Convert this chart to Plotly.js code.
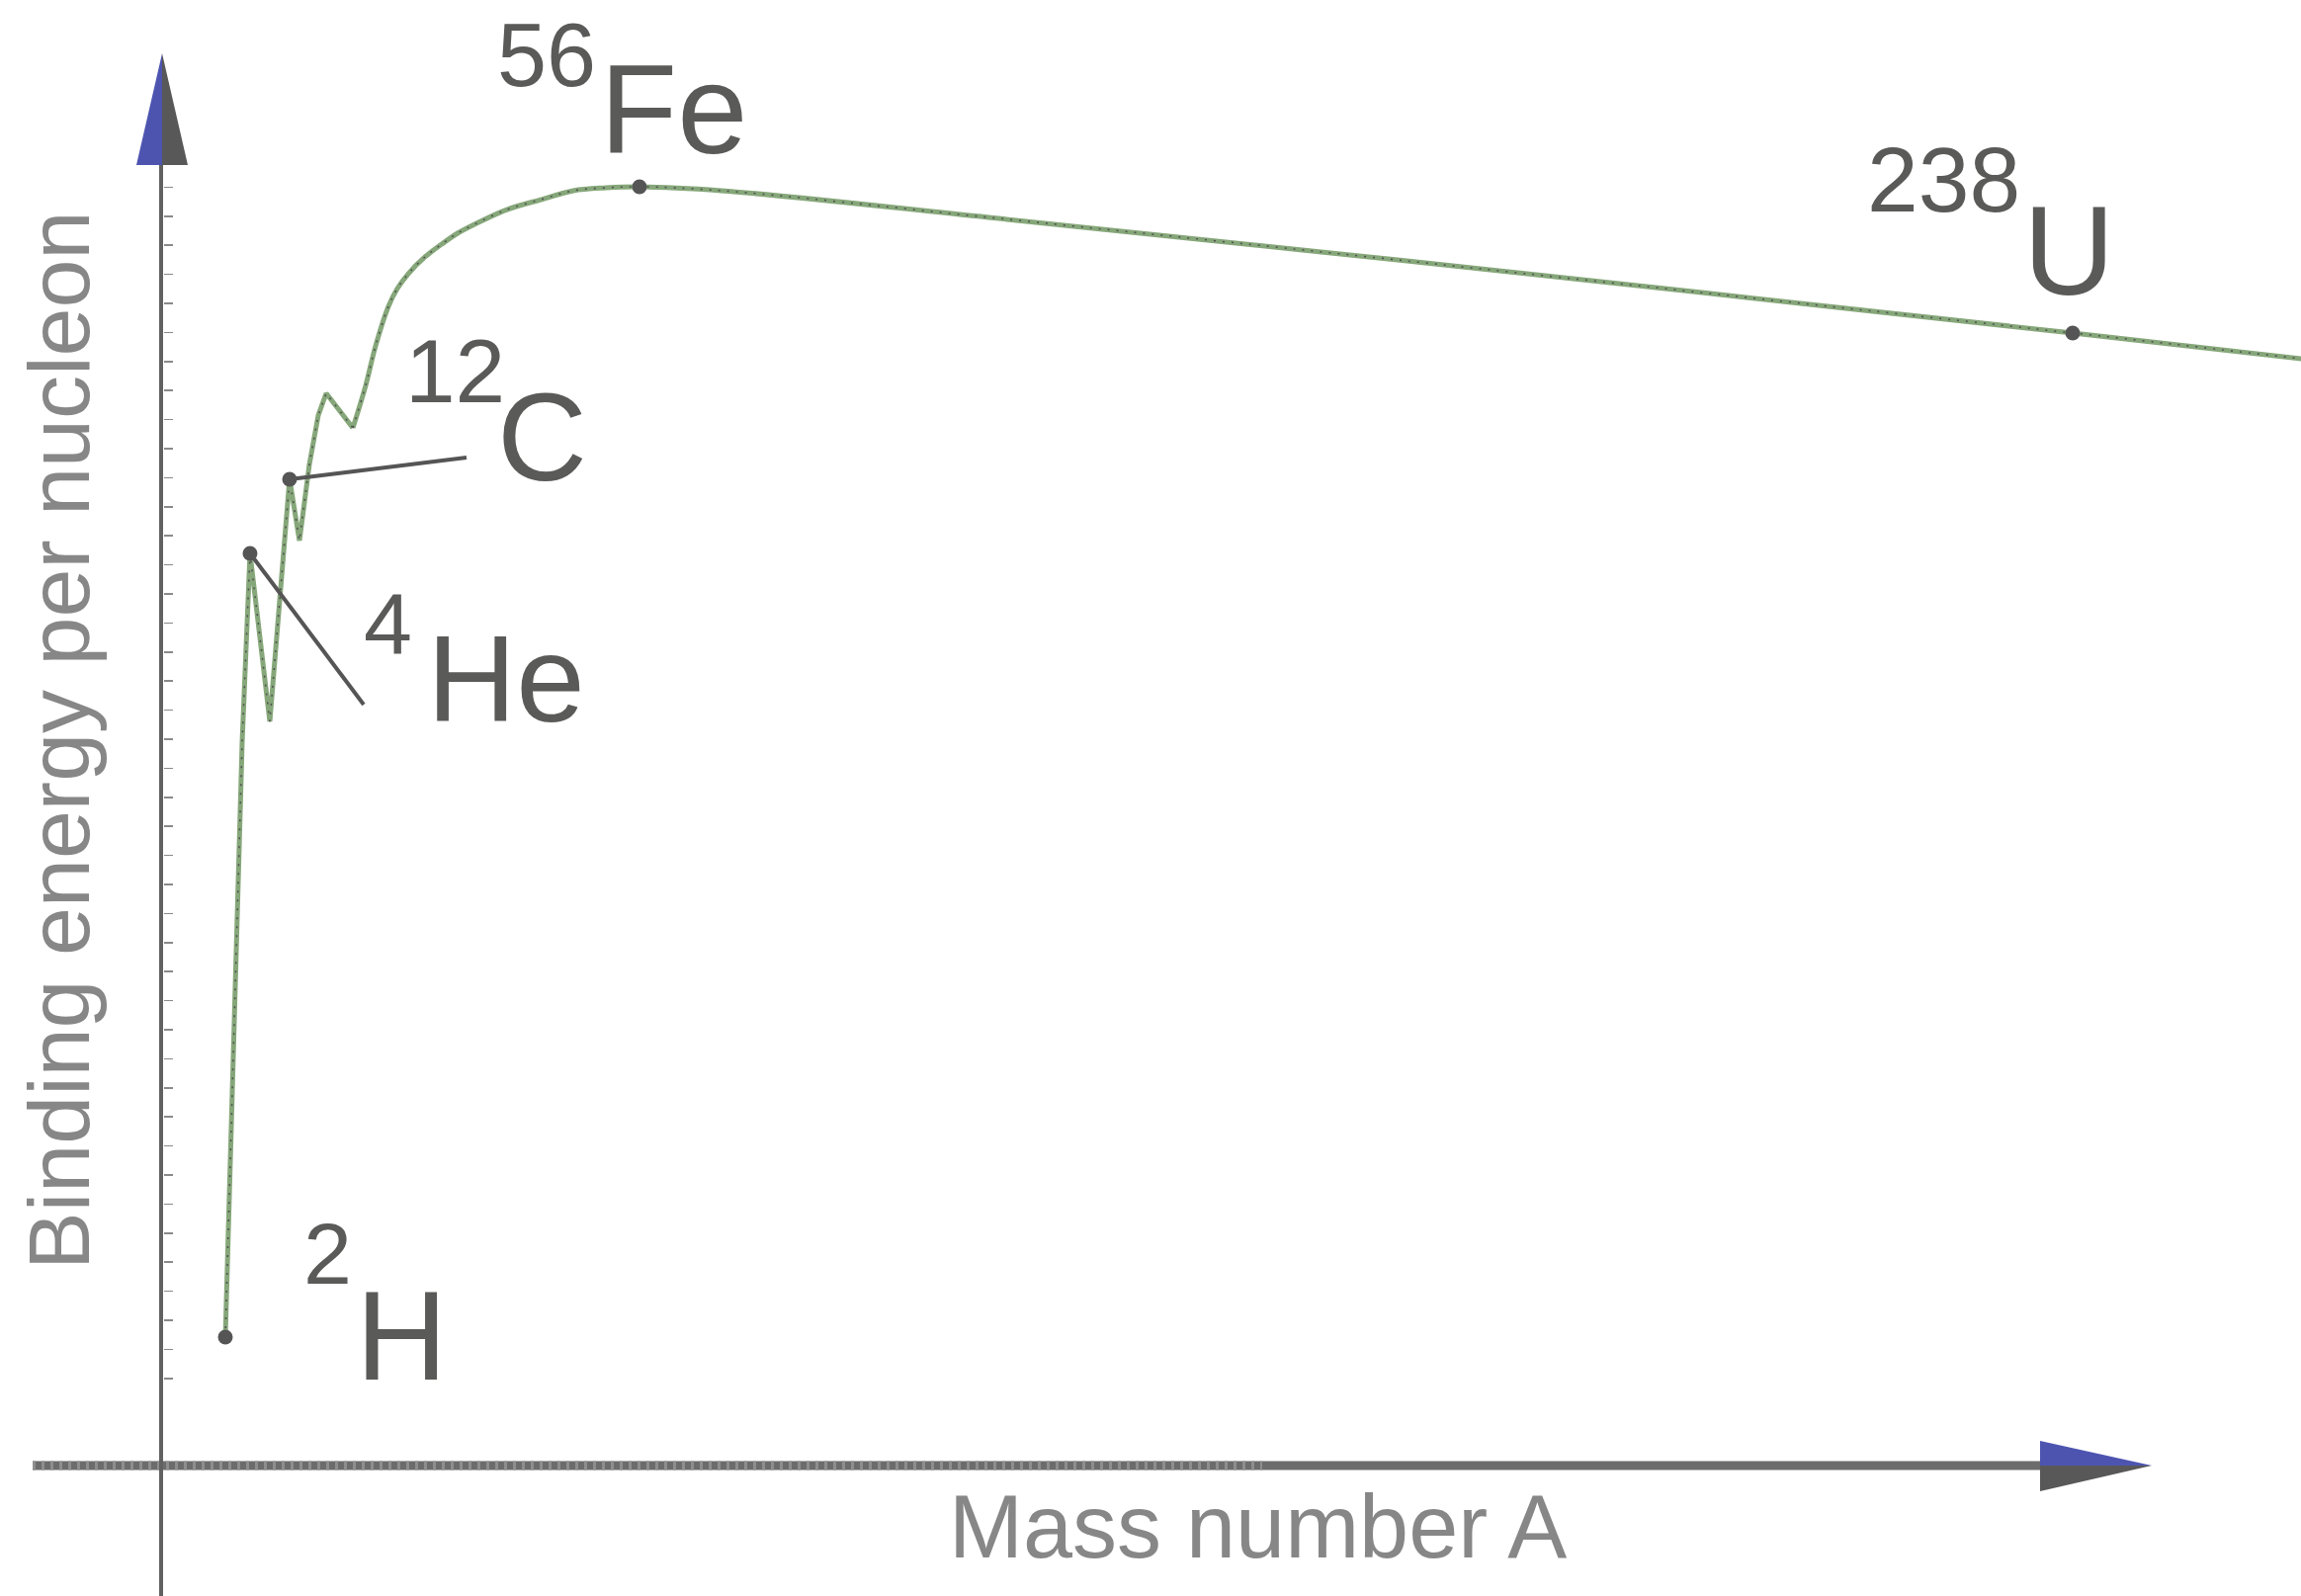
<!DOCTYPE html>
<html>
<head>
<meta charset="utf-8">
<script src="https://cdn.plot.ly/plotly-3.0.1.min.js"></script>
<style>html,body{margin:0;padding:0;background:#fff;}#chart{width:2328px;height:1615px;}</style>
</head>
<body>
<div id="chart"></div>
<script>
// ---- data (schematic units) ----
const curveX = [7.47, 9.43, 10.34, 12.64, 14.94, 16.09, 17.24, 18.28, 19.20, 22.30, 23.79, 24.94, 26.44, 27.47, 28.74, 30.69, 32.64, 34.48, 36.44, 40.23, 44.14, 47.93, 51.72, 55.63, 65.17, 96.21, 143.79, 222.30, 250.2];
const curveY = [0.884, 4.986, 6.279, 5.122, 6.789, 6.367, 6.891, 7.231, 7.381, 7.143, 7.435, 7.707, 7.980, 8.102, 8.204, 8.320, 8.408, 8.483, 8.544, 8.646, 8.714, 8.776, 8.796, 8.803, 8.776, 8.592, 8.299, 7.796, 7.61];
const nuclideX = [7.47, 10.34, 14.94, 55.63, 222.30];
const nuclideY = [0.884, 6.279, 6.789, 8.803, 7.796];
const massNumbers = ['2', '4', '12', '56', '238'];
const symbols = ['H', 'He', 'C', 'Fe', 'U'];
const xTitle = 'Mass number A';
const yTitle = 'Binding energy per nucleon';

// index where the jagged light-nuclei part joins the smooth part
const SPLIT = 9;

// ---- layout geometry ----
const W = 2328, H = 1615;
const X0 = 163, KX = 8.7, Y0 = 1483, KY = 147;
const px = v => v / W;
const py = v => 1 - v / H;
const toDX = p => (p - X0) / KX;
const toDY = p => (Y0 - p) / KY;

function pathPx(pts) {
  return pts.map((p, i) => (i ? 'L' : 'M') + px(p[0]).toFixed(5) + ',' + py(p[1]).toFixed(5)).join(' ') + ' Z';
}

const labelColor = '#5a5b58';
const titleColor = '#878787';
const font = 'Liberation Sans, Arial, Helvetica, sans-serif';

// label placement: [massLeft, massCenterY, massSize, symLeft, symCenterY, symSize]
const labelPos = [
  [305, 1268, 88, 358, 1351, 128],
  [366, 631, 88, 430, 687, 125],
  [408, 376, 91, 501, 443, 126],
  [501, 56, 90, 605, 110, 128],
  [1887, 182, 93, 2045, 254, 128]
];

const annotations = [];
labelPos.forEach((p, i) => {
  annotations.push({xref: 'paper', yref: 'paper', x: px(p[0]), y: py(p[1]), xanchor: 'left', yanchor: 'middle',
    text: massNumbers[i], showarrow: false, font: {family: font, size: p[2], color: labelColor}});
  annotations.push({xref: 'paper', yref: 'paper', x: px(p[3]), y: py(p[4]), xanchor: 'left', yanchor: 'middle',
    text: symbols[i], showarrow: false, font: {family: font, size: p[5], color: labelColor}});
});
annotations.push({xref: 'paper', yref: 'paper', x: px(1273), y: py(1545), xanchor: 'center', yanchor: 'middle',
  text: xTitle, showarrow: false, font: {family: font, size: 90, color: titleColor}});
annotations.push({xref: 'paper', yref: 'paper', x: px(59), y: py(750), xanchor: 'center', yanchor: 'middle',
  text: yTitle, textangle: -90, showarrow: false, font: {family: font, size: 88, color: titleColor}});

const shapes = [
  // x axis line
  {type: 'line', xref: 'paper', yref: 'paper', x0: px(33), y0: py(1483), x1: px(2070), y1: py(1483),
   line: {color: '#6c6c6c', width: 9}, layer: 'below'},
  {type: 'line', xref: 'paper', yref: 'paper', x0: px(33), y0: py(1483), x1: px(1277), y1: py(1483),
   line: {color: '#8e8e8e', width: 9, dash: '3px,6px'}, layer: 'below'},
  // y axis line
  {type: 'line', xref: 'paper', yref: 'paper', x0: px(163), y0: py(1615), x1: px(163), y1: py(160),
   line: {color: '#616161', width: 4}, layer: 'below'},
  // y arrow (left blue, right gray)
  {type: 'path', xref: 'paper', yref: 'paper', path: pathPx([[164, 54], [138, 167], [164, 167]]),
   fillcolor: '#4d54b0', line: {width: 0}, layer: 'above'},
  {type: 'path', xref: 'paper', yref: 'paper', path: pathPx([[164, 54], [164, 167], [190, 167]]),
   fillcolor: '#585858', line: {width: 0}, layer: 'above'},
  // x arrow (top blue, bottom gray)
  {type: 'path', xref: 'paper', yref: 'paper', path: pathPx([[2177, 1483], [2064, 1458], [2064, 1483]]),
   fillcolor: '#4d54b0', line: {width: 0}, layer: 'above'},
  {type: 'path', xref: 'paper', yref: 'paper', path: pathPx([[2177, 1483], [2064, 1483], [2064, 1509]]),
   fillcolor: '#585858', line: {width: 0}, layer: 'above'},
  // leader lines for 4He and 12C
  {type: 'line', xref: 'x', yref: 'y', x0: nuclideX[1], y0: nuclideY[1], x1: toDX(368), y1: toDY(713),
   line: {color: '#555555', width: 4}, layer: 'above'},
  {type: 'line', xref: 'x', yref: 'y', x0: nuclideX[2], y0: nuclideY[2], x1: toDX(472), y1: toDY(463),
   line: {color: '#555555', width: 4}, layer: 'above'}
];

// y-axis minor tick positions (decoration)
const tickPos = [];
for (let v = 0.6; v <= 8.8; v += 0.2) tickPos.push(+v.toFixed(2));

const jagX = curveX.slice(0, SPLIT + 1), jagY = curveY.slice(0, SPLIT + 1);
const smX = curveX.slice(SPLIT), smY = curveY.slice(SPLIT);

const traces = [
  {x: jagX, y: jagY, type: 'scatter', mode: 'lines', line: {color: '#86a77a', width: 5}, hoverinfo: 'skip'},
  {x: smX, y: smY, type: 'scatter', mode: 'lines', line: {color: '#86a77a', width: 5, shape: 'spline', smoothing: 1}, hoverinfo: 'skip'},
  {x: jagX, y: jagY, type: 'scatter', mode: 'lines', line: {color: '#505050', width: 1.5, dash: '2px,7px'}, hoverinfo: 'skip'},
  {x: smX, y: smY, type: 'scatter', mode: 'lines', line: {color: '#505050', width: 1.5, dash: '2px,7px', shape: 'spline', smoothing: 1}, hoverinfo: 'skip'},
  {x: nuclideX, y: nuclideY, type: 'scatter', mode: 'markers', marker: {color: '#555555', size: 15}, hoverinfo: 'skip'}
];

const layout = {
  width: W, height: H, autosize: false,
  margin: {l: 0, r: 0, t: 0, b: 0, pad: 0},
  paper_bgcolor: '#ffffff', plot_bgcolor: '#ffffff',
  showlegend: false,
  xaxis: {range: [toDX(0), toDX(W)], showgrid: false, zeroline: false, showline: false,
          showticklabels: false, ticks: '', fixedrange: true},
  yaxis: {range: [toDY(H), toDY(0)], showgrid: false, zeroline: false, showline: false,
          showticklabels: false, anchor: 'free', position: px(165), side: 'left',
          ticks: 'inside', ticklen: 9, tickwidth: 1.5, tickcolor: '#8a8a8a',
          tickmode: 'array', tickvals: tickPos, fixedrange: true},
  shapes: shapes,
  annotations: annotations
};

Plotly.newPlot('chart', traces, layout, {displayModeBar: false, staticPlot: true});
</script>
</body>
</html>
